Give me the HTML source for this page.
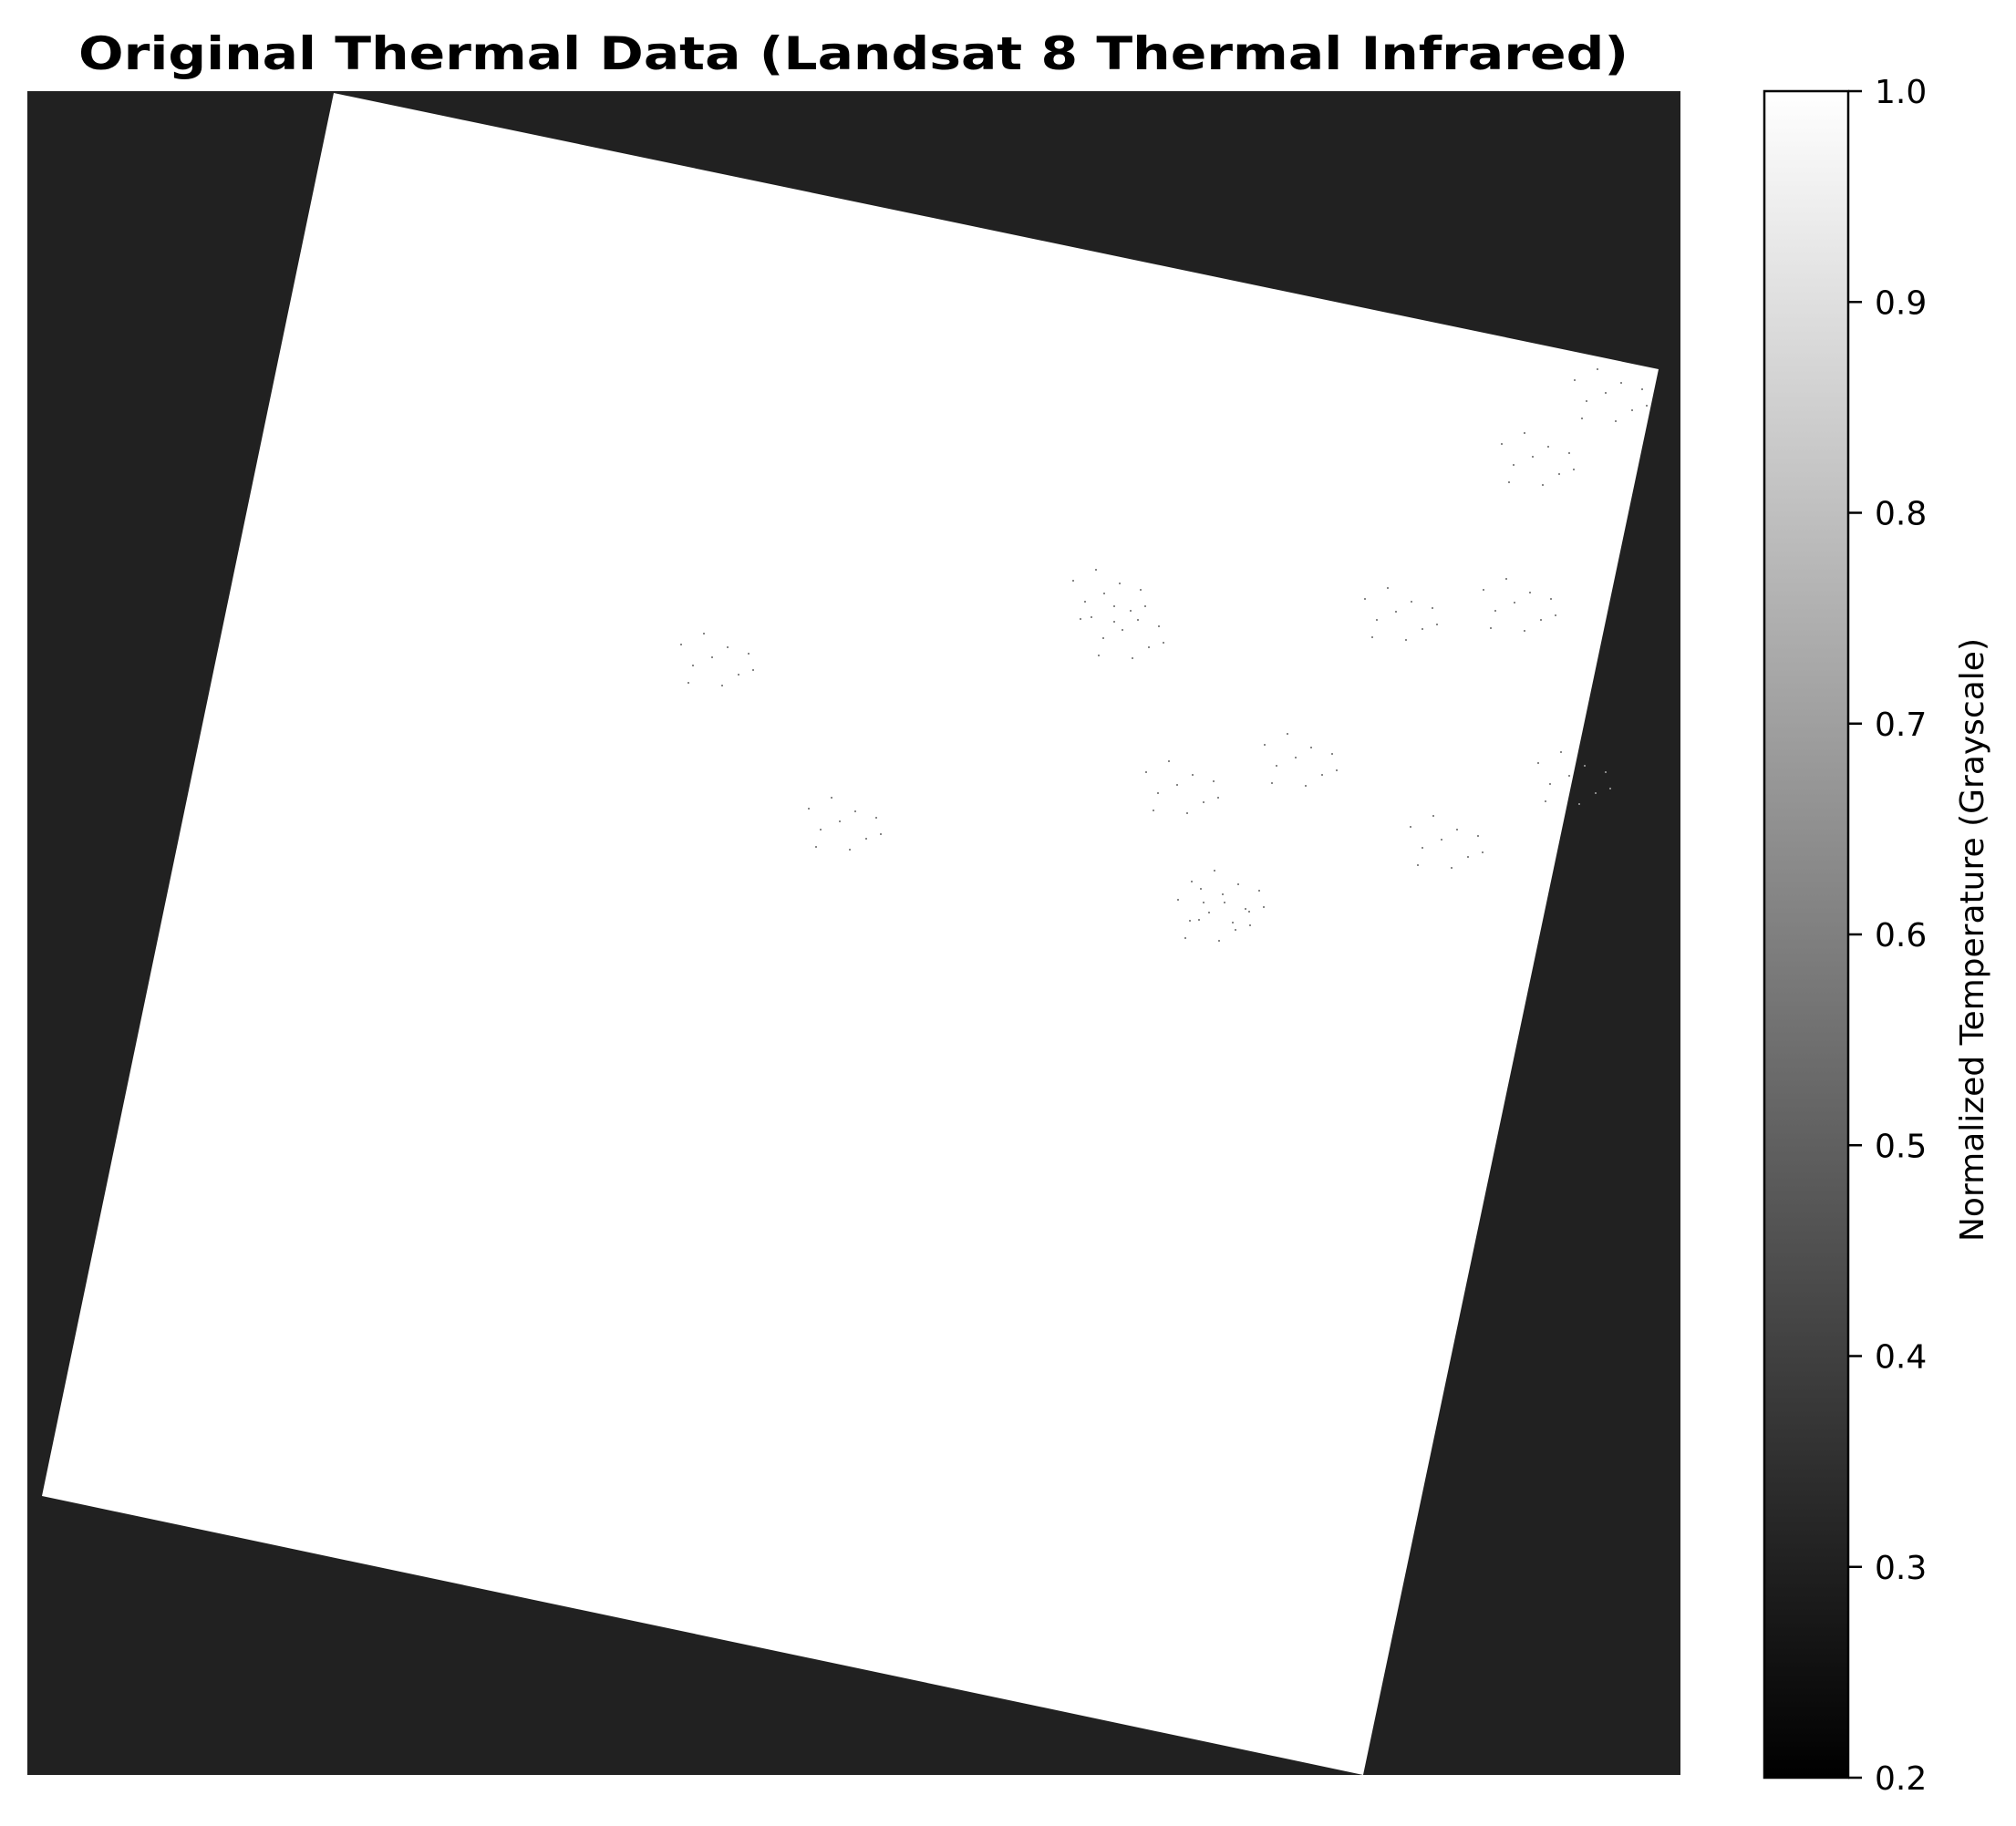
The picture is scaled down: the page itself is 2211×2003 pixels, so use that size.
<!DOCTYPE html>
<html><head><meta charset="utf-8"><style>
html,body{margin:0;padding:0;background:#fff;}
svg{display:block;font-family:"DejaVu Sans","Liberation Sans",sans-serif;}
</style></head><body>
<svg id="fig" width="2211" height="2003" viewBox="0 0 2211 2003">
<defs>
<linearGradient id="cbg" x1="0" y1="1" x2="0" y2="0">
<stop offset="0" stop-color="#000"/><stop offset="1" stop-color="#fff"/>
</linearGradient>
</defs>
<text x="936" y="76" text-anchor="middle" font-weight="bold" font-size="50" textLength="1700" lengthAdjust="spacingAndGlyphs">Original Thermal Data (Landsat 8 Thermal Infrared)</text>
<g>
<rect x="30" y="100" width="1813" height="1847" fill="#212121"/>
<polygon points="366,102 1819,405 1495,1947 46,1641" fill="#fff"/>
<g id="speckles"></g>
</g>
<g id="cbar">
<rect x="1935" y="100" width="92" height="1850" fill="url(#cbg)" stroke="#000" stroke-width="2.5"/>
</g>
<text x="2175" y="1031" text-anchor="middle" font-size="36" transform="rotate(-90 2175 1031)">Normalized Temperature (Grayscale)</text>
</svg>
<script>
const tickValues = [0.2,0.3,0.4,0.5,0.6,0.7,0.8,0.9,1.0];
const tickLabels = ["0.2","0.3","0.4","0.5","0.6","0.7","0.8","0.9","1.0"];
const vmin = 0.2, vmax = 1.0;
const clusterX = [1230,1290,1340,1420,1530,1580,1660,1720,1760,1680,780,920,1325,1210];
const clusterY = [690,860,980,830,670,920,660,850,430,500,720,900,1000,650];
const NS='http://www.w3.org/2000/svg';
function cy(v){return 1950-(v-vmin)/(vmax-vmin)*1850;}
const cb=document.getElementById('cbar');
tickValues.forEach((v,i)=>{
 const l=document.createElementNS(NS,'line');
 l.setAttribute('x1',2027);l.setAttribute('x2',2042);
 l.setAttribute('y1',cy(v));l.setAttribute('y2',cy(v));
 l.setAttribute('stroke','#000');l.setAttribute('stroke-width',2.5);
 
 
 cb.appendChild(l);
 const t=document.createElementNS(NS,'text');
 t.setAttribute('x',2056);t.setAttribute('y',cy(v)+13);
 t.setAttribute('font-size','36');
 t.textContent=tickLabels[i];
 
 
 cb.appendChild(t);
});
const sp=document.getElementById('speckles');
const offs=[[0,0],[17,-11],[-21,9],[29,19],[-9,-26],[40,-4],[-34,-14],[11,31],[-26,28],[45,14]];
clusterX.forEach((x,i)=>{
 offs.forEach(o=>{
  const r=document.createElementNS(NS,'rect');
  r.setAttribute('x',x+o[0]);r.setAttribute('y',clusterY[i]+o[1]);
  r.setAttribute('width',2);r.setAttribute('height',2);
  r.setAttribute('fill','#888');
  
  
  sp.appendChild(r);
 });
});
</script>
</body></html>
